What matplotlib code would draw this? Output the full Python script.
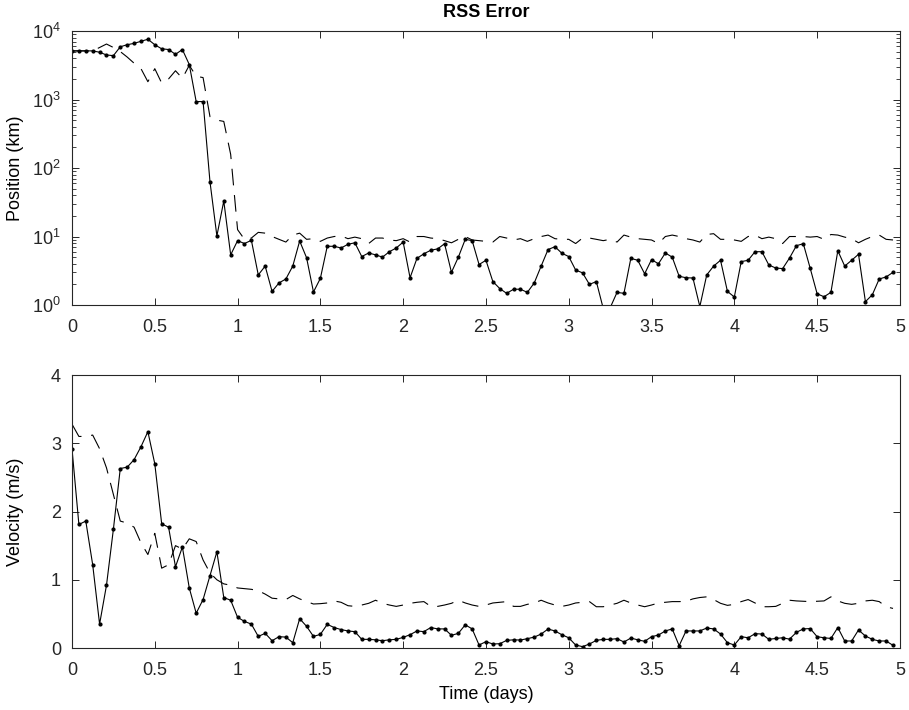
import numpy as np
import matplotlib
matplotlib.use('Agg')
import matplotlib.pyplot as plt
from matplotlib.ticker import FormatStrFormatter, LogLocator, NullFormatter

plt.rcParams['font.family'] = ['Liberation Sans', 'DejaVu Sans']
plt.rcParams['mathtext.default'] = 'regular'
plt.rcParams['lines.scale_dashes'] = False

# hourly samples, 0 .. 4.958 days
t = np.arange(120) / 24.0

# position RSS error (km)
pos_solid = [5130, 5130, 5130, 5130, 4900, 4470, 4370, 5890, 6310, 6610,
             7080, 7590, 6310, 5500, 5370, 4570, 5370, 3240, 933, 933,
             63, 10.2, 33, 5.4, 8.7, 7.9, 8.8, 2.75, 3.7, 1.58,
             2.1, 2.4, 3.7, 8.6, 4.9, 1.55, 2.45, 7.2, 7.2, 6.8,
             7.7, 8.1, 5.1, 5.75, 5.4, 5.0, 6.0, 6.8, 8.3, 2.5,
             4.8, 5.6, 6.3, 6.6, 7.85, 3.0, 5.0, 9.1, 8.7, 3.9,
             4.5, 2.2, 1.74, 1.48, 1.7, 1.7, 1.53, 2.1, 3.7, 6.45,
             7.1, 5.7, 5.1, 3.24, 2.95, 2.0, 2.2, 0.89, 0.91, 1.53,
             1.48, 4.8, 4.5, 2.86, 4.6, 4.0, 5.75, 5.0, 2.63, 2.5,
             2.48, 0.95, 2.75, 3.7, 4.5, 1.58, 1.31, 4.3, 4.5, 6.0,
             6.0, 3.84, 3.47, 3.4, 4.85, 7.35, 7.85, 3.43, 1.46, 1.32,
             1.53, 6.2, 3.7, 4.5, 5.5, 1.12, 1.41, 2.4, 2.57, 3.0]

pos_dash = [5130, 5130, 5130, 5130, 5750, 6460, 5750, 5010, 4170, 3390,
            2820, 1820, 2820, 1740, 2000, 2630, 2040, 3160, 2190, 2090,
            562, 501, 479, 158, 12.6, 9.1, 9.5, 11.5, 11.2, 10.0,
            9.1, 8.3, 10.5, 11.2, 9.1, 9.3, 8.5, 9.5, 10.0, 10.2,
            9.3, 9.8, 9.3, 7.9, 9.5, 9.5, 8.9, 8.7, 9.3, 8.3,
            10.0, 10.0, 9.5, 9.3, 8.7, 8.1, 9.1, 10.0, 8.9, 8.7,
            8.5, 8.3, 10.0, 9.5, 8.9, 9.3, 8.5, 9.3, 10.0, 10.5,
            9.3, 9.1, 9.1, 7.9, 9.5, 9.5, 9.1, 8.7, 9.1, 8.3,
            10.5, 9.8, 9.3, 9.1, 8.9, 7.9, 10.0, 10.5, 10.0, 9.3,
            8.9, 8.3, 10.7, 11.0, 9.1, 9.1, 8.9, 8.5, 10.0, 10.5,
            9.3, 9.8, 9.3, 7.9, 10.0, 10.0, 10.0, 9.8, 10.0, 9.1,
            10.7, 10.5, 9.8, 9.3, 8.1, 9.1, 10.0, 10.5, 9.1, 8.9]

# velocity RSS error (m/s)
vel_solid = [2.92, 1.81, 1.86, 1.22, 0.35, 0.92, 1.74, 2.63, 2.65, 2.76,
             2.95, 3.17, 2.70, 1.82, 1.77, 1.19, 1.48, 0.88, 0.51, 0.71,
             1.06, 1.41, 0.74, 0.70, 0.45, 0.39, 0.35, 0.17, 0.215, 0.107,
             0.166, 0.16, 0.078, 0.43, 0.318, 0.17, 0.20, 0.347, 0.30, 0.27,
             0.25, 0.24, 0.127, 0.127, 0.12, 0.107, 0.12, 0.127, 0.156, 0.195,
             0.25, 0.24, 0.30, 0.28, 0.28, 0.186, 0.215, 0.34, 0.28, 0.044,
             0.093, 0.059, 0.063, 0.112, 0.12, 0.117, 0.137, 0.16, 0.205, 0.278,
             0.25, 0.195, 0.15, 0.044, 0.02, 0.059, 0.112, 0.127, 0.127, 0.137,
             0.088, 0.146, 0.12, 0.098, 0.166, 0.19, 0.25, 0.28, 0.034, 0.25,
             0.25, 0.25, 0.293, 0.28, 0.205, 0.078, 0.044, 0.166, 0.15, 0.21,
             0.205, 0.127, 0.14, 0.15, 0.13, 0.23, 0.28, 0.285, 0.166, 0.15,
             0.14, 0.30, 0.103, 0.103, 0.264, 0.176, 0.127, 0.103, 0.103, 0.039]

vel_dash = [3.28, 3.10, 3.10, 3.12, 2.92, 2.64, 2.25, 1.86, 1.83, 1.77,
            1.54, 1.37, 1.68, 1.17, 1.22, 1.50, 1.45, 1.60, 1.56, 1.29,
            1.10, 1.00, 0.94, 0.92, 0.88, 0.87, 0.86, 0.84, 0.79, 0.73,
            0.72, 0.71, 0.77, 0.72, 0.68, 0.645, 0.65, 0.66, 0.69, 0.67,
            0.62, 0.61, 0.63, 0.655, 0.70, 0.655, 0.63, 0.61, 0.63, 0.655,
            0.67, 0.68, 0.61, 0.61, 0.63, 0.655, 0.70, 0.66, 0.63, 0.61,
            0.63, 0.66, 0.67, 0.68, 0.61, 0.61, 0.64, 0.66, 0.70, 0.66,
            0.63, 0.61, 0.63, 0.66, 0.67, 0.68, 0.605, 0.605, 0.63, 0.655,
            0.70, 0.66, 0.63, 0.605, 0.63, 0.66, 0.67, 0.68, 0.68, 0.685,
            0.72, 0.74, 0.75, 0.71, 0.655, 0.625, 0.64, 0.68, 0.71, 0.66,
            0.605, 0.605, 0.61, 0.655, 0.70, 0.69, 0.685, 0.68, 0.685, 0.69,
            0.75, 0.69, 0.655, 0.64, 0.655, 0.69, 0.70, 0.68, 0.605, 0.58]

xticks = [0, 0.5, 1, 1.5, 2, 2.5, 3, 3.5, 4, 4.5, 5]

fig = plt.figure(figsize=(9.09, 7.10), dpi=100)
ax1 = fig.add_axes([0.0792, 0.5704, 0.9108, 0.3859])
ax2 = fig.add_axes([0.0792, 0.0873, 0.9108, 0.3845])

solid_kw = dict(color='black', lw=0.8, marker='.', markersize=4)
dash_kw = dict(color='black', lw=0.8, linestyle='--', dashes=(12, 7))

# top: position
ax1.plot(t, pos_dash, **dash_kw)
ax1.plot(t, pos_solid, **solid_kw)
ax1.set_yscale('log')
ax1.set_ylim(1, 1e4)
ax1.yaxis.set_major_locator(LogLocator(base=10, numticks=10))
ax1.yaxis.set_minor_locator(LogLocator(base=10, subs=np.arange(2, 10), numticks=20))
ax1.yaxis.set_minor_formatter(NullFormatter())
ax1.set_ylabel('Position (km)', fontsize=13)
ax1.set_title('RSS Error', fontsize=13, fontweight='bold', pad=10)

# bottom: velocity
ax2.plot(t, vel_dash, **dash_kw)
ax2.plot(t, vel_solid, **solid_kw)
ax2.set_ylim(0, 4)
ax2.set_yticks([0, 1, 2, 3, 4])
ax2.set_ylabel('Velocity (m/s)', fontsize=13)
ax2.set_xlabel('Time (days)', fontsize=13, labelpad=5)

for ax in (ax1, ax2):
    ax.set_xlim(0, 5)
    ax.set_xticks(xticks)
    ax.xaxis.set_major_formatter(FormatStrFormatter('%g'))
    ax.yaxis.set_label_coords(-0.058, 0.5)
    ax.tick_params(which='both', direction='in', top=True, right=True,
                   labelsize=13, colors='#262626')
    ax.tick_params(which='major', length=5, width=0.7)
    ax.tick_params(which='minor', length=3, width=0.6)
    ax.tick_params(axis='x', pad=10)
    ax.tick_params(axis='y', pad=8)
    for s in ax.spines.values():
        s.set_color('#262626')
        s.set_linewidth(0.8)

plt.savefig('out.png', dpi=100)
